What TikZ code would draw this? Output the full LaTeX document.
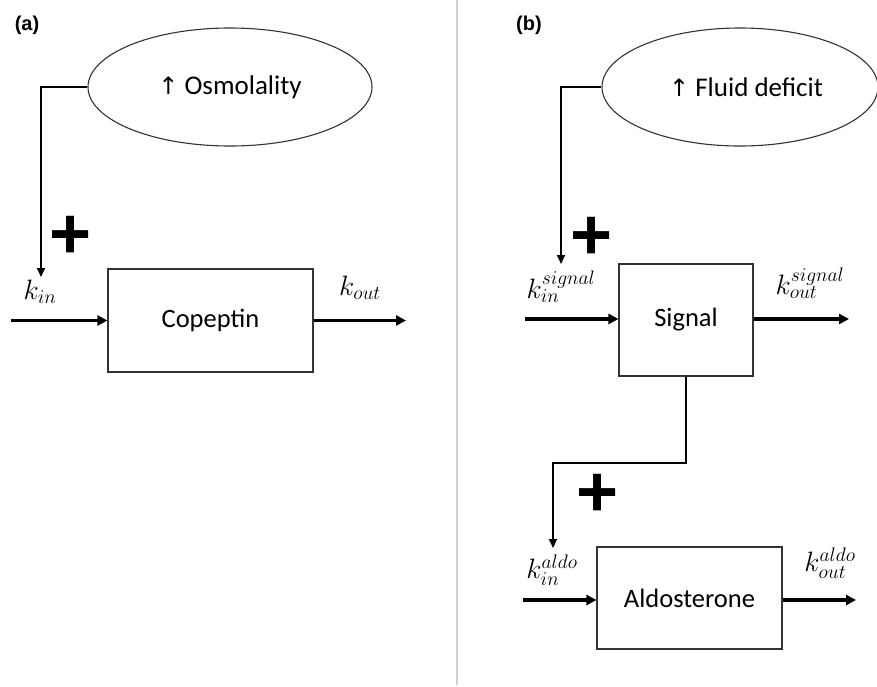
\documentclass[tikz,border=0pt]{standalone}
\usepackage{fix-cm}
\usepackage{fontspec}
\setmainfont{Carlito}
\newfontfamily\labfont{Liberation Sans}
\newfontfamily\symf{DejaVu Sans}
\usetikzlibrary{shapes.geometric,arrows.meta}
\begin{document}
\begin{tikzpicture}[x=1pt,y=-1pt,
  ell/.style={ellipse, draw=black!80, line width=1.1pt, inner sep=0pt, font=\fontsize{27}{32}\selectfont},
  blk/.style={rectangle, draw=black!80, line width=1.1pt, inner sep=0pt, font=\fontsize{26.5}{31}\selectfont},
  feed/.style={line width=1.9pt, -{Triangle[length=9pt,width=8pt]}},
  flow/.style={line width=3.2pt, -{Triangle[length=10pt,width=10pt]}},
  plus/.style={font=\labfont\bfseries\fontsize{72}{76}\selectfont, inner sep=0pt},
  panel/.style={font=\labfont\bfseries\fontsize{20}{24}\selectfont, inner sep=0pt},
  rate/.style={font=\fontsize{28}{32}\selectfont, inner sep=0pt}]
\useasboundingbox (0,0) rectangle (877,686);
\fill[white] (0,0) rectangle (877,686);
% divider
\coordinate (dtop) at (457,0);
\coordinate (dbot) at (457,685);
\draw[line width=1.8pt, black!18] (dtop) -- (dbot);
% panel (a)
\node[panel] (pa) at (27,25) {(a)};
\node[ell, minimum width=284, minimum height=118] (ella) at (230,87) {{\symf\fontsize{24}{28}\selectfont ↑} Osmolality};
\node[blk, minimum width=205, minimum height=103] (boxa) at (210.5,320.5) {Copeptin};
\coordinate (ta) at (41,277);
\draw[feed] (ella.west) -| (ta);
\node[plus] (plusa) at (71,237) {+};
\coordinate (ia) at (11,320.5);
\coordinate (oa) at (406,320.5);
\draw[flow] (ia) -- (boxa.west);
\draw[flow] (boxa.east) -- (oa);
\node[rate] (kina) at (40,292) {$k_{in}$};
\node[rate] (kouta) at (360,288) {$k_{out}$};
% panel (b)
\node[panel] (pb) at (529,25) {(b)};
\node[ell, minimum width=276, minimum height=118] (ellb) at (740,87) {\hspace*{12pt}{\symf\fontsize{24}{28}\selectfont ↑} Fluid deficit};
\node[blk, minimum width=134, minimum height=112] (boxs) at (686,320) {Signal};
\coordinate (tb) at (561,264);
\draw[feed] (ellb.west) -| (tb);
\node[plus] (plusb) at (592,238) {+};
\coordinate (ib) at (525,319);
\coordinate (ob) at (849,319);
\draw[flow] (ib) -- (boxs.west |- ib);
\draw[flow] (boxs.east |- ob) -- (ob);
\node[rate] (kinb) at (561,287) {$k_{in}^{signal}$};
\node[rate] (koutb) at (810,283) {$k_{out}^{signal}$};
\node[blk, minimum width=185, minimum height=102] (boxal) at (689.5,598) {Aldosterone};
\coordinate (bend) at (686,463);
\coordinate (tc) at (553,548);
\draw[feed] (boxs.south) -- (bend) -| (tc);
\node[plus] (plusc) at (598,495) {+};
\coordinate (ic) at (523,600);
\coordinate (oc) at (856,600);
\draw[flow] (ic) -- (boxal.west |- ic);
\draw[flow] (boxal.east |- oc) -- (oc);
\node[rate] (kinc) at (552,570) {$k_{in}^{aldo}$};
\node[rate] (koutc) at (830,563) {$k_{out}^{aldo}$};
\end{tikzpicture}
\end{document}
